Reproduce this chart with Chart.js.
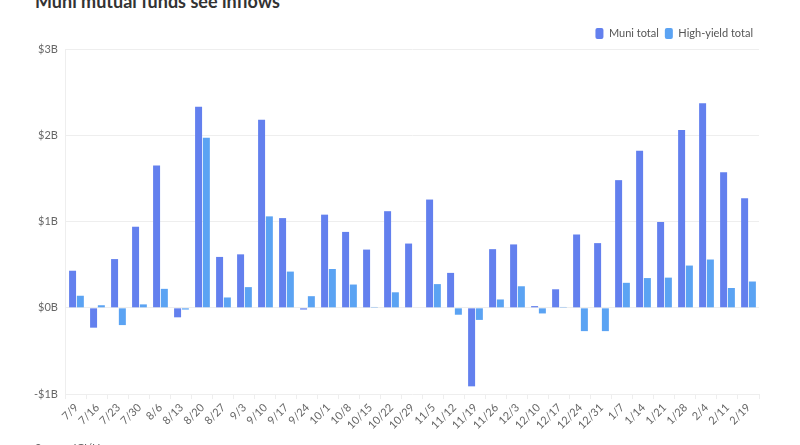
<!DOCTYPE html>
<html>
<head>
    <meta charset="UTF-8">
    <title>Muni mutual funds see inflows</title>
    <script src="https://cdn.jsdelivr.net/npm/chart.js@4"></script>
    <style type="text/css">
        body { margin: 0; background: #fff; font-family: Lato, sans-serif; }
        #wrap { position: relative; width: 800px; height: 445px; overflow: hidden; }
        #title { position: absolute; left: 35px; top: -9px; font-size: 18px; font-weight: bold; color: #333; line-height: 20px; }
        #source { position: absolute; left: 35px; top: 441px; font-size: 11px; color: #666; }
        #chartBox { position: absolute; left: 0; top: 0; width: 800px; height: 445px; }
    </style>
</head>
<body>
<div id="wrap">
    <div id="title">Muni mutual funds see inflows</div>
    <div id="chartBox"><canvas id="fundsChart"></canvas></div>
    <div id="source">Source: ICI/Haver</div>
</div>

<script>
    const weeks = ['7/9', '7/16', '7/23', '7/30', '8/6', '8/13', '8/20', '8/27', '9/3', '9/10', '9/17',
        '9/24', '10/1', '10/8', '10/15', '10/22', '10/29', '11/5', '11/12', '11/19', '11/26', '12/3',
        '12/10', '12/17', '12/24', '12/31', '1/7', '1/14', '1/21', '1/28', '2/4', '2/11', '2/19'];

    // weekly flows, $ billions
    const muniTotal = [0.43, -0.23, 0.565, 0.94, 1.65, -0.11, 2.33, 0.59, 0.62, 2.18, 1.04,
        -0.02, 1.08, 0.88, 0.675, 1.12, 0.745, 1.255, 0.405, -0.91, 0.68, 0.735,
        0.02, 0.215, 0.85, 0.75, 1.48, 1.82, 0.995, 2.06, 2.37, 1.57, 1.27];
    const highYieldTotal = [0.14, 0.03, -0.20, 0.04, 0.22, -0.02, 1.97, 0.12, 0.24, 1.06, 0.42,
        0.135, 0.45, 0.27, 0.01, 0.18, 0.0, 0.275, -0.08, -0.14, 0.097, 0.25,
        -0.065, 0.01, -0.27, -0.27, 0.29, 0.345, 0.35, 0.49, 0.56, 0.23, 0.305];

    const yTicks = [-1, 0, 1, 2, 3];

    const ctx = document.getElementById('fundsChart').getContext('2d');
    new Chart(ctx, {
        type: 'bar',
        data: {
            labels: weeks,
            datasets: [
                {
                    label: 'Muni total',
                    data: muniTotal,
                    backgroundColor: '#6380EE',
                    borderWidth: 0
                },
                {
                    label: 'High-yield total',
                    data: highYieldTotal,
                    backgroundColor: '#5BA3F3',
                    borderWidth: 0
                }
            ]
        },
        options: {
            responsive: true,
            maintainAspectRatio: false,
            animation: false,
            datasets: {
                bar: { categoryPercentage: 0.74, barPercentage: 0.9 }
            },
            layout: {
                padding: { left: 26, right: 41, top: 22, bottom: 11 }
            },
            plugins: {
                legend: {
                    display: true,
                    position: 'top',
                    align: 'end',
                    labels: {
                        font: { family: 'Lato', size: 11 },
                        color: '#555',
                        boxWidth: 8,
                        boxHeight: 11,
                        useBorderRadius: true,
                        borderRadius: 2,
                        padding: 6
                    }
                },
                tooltip: { enabled: false }
            },
            scales: {
                x: {
                    ticks: {
                        color: '#666',
                        font: { family: 'Lato', size: 11 },
                        maxRotation: 45,
                        minRotation: 45,
                        autoSkip: false,
                        padding: 2
                    },
                    grid: {
                        color: '#eeeeee',
                        drawOnChartArea: false,
                        drawTicks: true,
                        tickLength: 5
                    },
                    border: { display: false }
                },
                y: {
                    min: yTicks[0],
                    max: yTicks[yTicks.length - 1],
                    afterBuildTicks: axis => {
                        axis.ticks = yTicks.map(v => ({ value: v }));
                    },
                    ticks: {
                        color: '#666',
                        font: { family: 'Lato', size: 11 },
                        padding: 8,
                        callback: v => (v < 0 ? '-$' + Math.abs(v) : '$' + v) + 'B'
                    },
                    grid: {
                        color: '#eeeeee',
                        drawTicks: false
                    },
                    border: { display: true, color: '#eeeeee' }
                }
            }
        }
    });
</script>

</body>
</html>
